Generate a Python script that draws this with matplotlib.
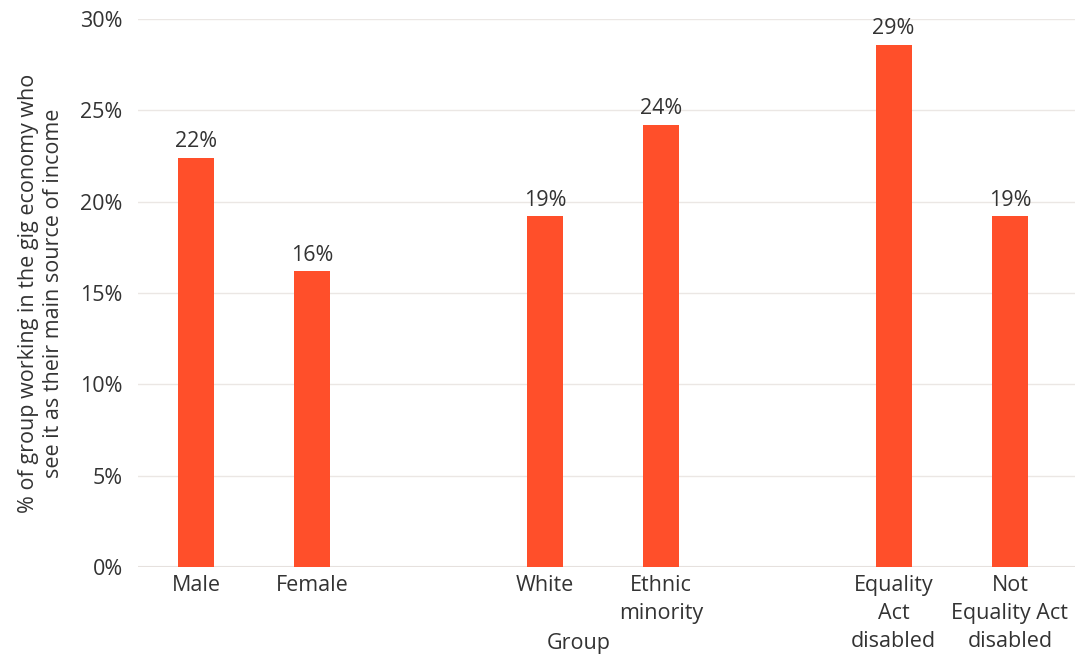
import matplotlib.pyplot as plt
import numpy as np

# data
categories = ["Male", "Female", "", "White", "Ethnic\nminority", "",
              "Equality\nAct\ndisabled", "Not\nEquality Act\ndisabled"]
values = [22.4, 16.2, None, 19.2, 24.2, None, 28.6, 19.2]
value_labels = ["22%", "16%", "", "19%", "24%", "", "29%", "19%"]
y_ticks = [0, 5, 10, 15, 20, 25, 30]

plt.rcParams['font.family'] = ['Open Sans', 'DejaVu Sans']
text_col = "#333333"
bar_col = "#ff4f2a"
fs = 15.5

fig = plt.figure(figsize=(10.91, 6.54), dpi=100)
ax = fig.add_axes([138/1091, 1 - 567/654, (1075-138)/1091, (567-19)/654])

x = np.arange(len(categories))
for xi, v, lab in zip(x, values, value_labels):
  if v is None:
    continue
  ax.bar(xi, v, width=0.31, color=bar_col, zorder=3)
  ax.annotate(lab, (xi, v), xytext=(0, 4), textcoords="offset points",
              ha="center", va="bottom", fontsize=fs, color=text_col)

ax.set_xlim(-0.5, 7.56)
ax.set_ylim(0, 30)
ax.set_yticks(y_ticks)
ax.set_yticklabels([f"{t}%" for t in y_ticks])
ax.set_xticks(x)
ax.set_xticklabels(categories, linespacing=1.42)
ax.tick_params(length=0, labelsize=fs, colors=text_col)
ax.tick_params(axis="y", pad=11)
ax.tick_params(axis="x", pad=6)
ax.grid(axis="y", color="#ebe7e4", linewidth=1, zorder=0)
for s in ax.spines.values():
  s.set_visible(False)
ax.axhline(0, color="#e6e1de", linewidth=1.5, zorder=2)

ax.text(0.47, -0.12, "Group", transform=ax.transAxes, ha="center", va="top",
        fontsize=fs, color=text_col)
ax.set_ylabel("% of group working in the gig economy who\nsee it as their main source of income",
              fontsize=fs, color=text_col, labelpad=12, linespacing=1.25)

fig.savefig("out.png", dpi=100)
